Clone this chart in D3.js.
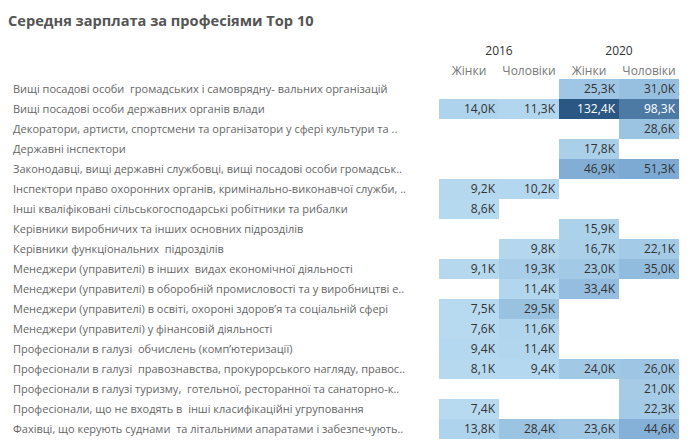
<!DOCTYPE html>
<html>
<head>
<meta charset="utf-8">
<script src="https://cdn.jsdelivr.net/npm/d3@7"></script>
<style>
  body { margin: 0; background: #fff; }
  text { white-space: pre; }
</style>
</head>
<body>
<div class="chart"></div>
<script>
// data
const professions = [
  "Вищі посадові особи  громадських і самоврядну- вальних організацій",
  "Вищі посадові особи державних органів влади",
  "Декоратори, артисти, спортсмени та організатори у сфері культури та ..",
  "Державні інспектори",
  "Законодавці, вищі державні службовці, вищі посадові особи громадськ..",
  "Інспектори право охоронних органів, кримінально-виконавчої служби, ..",
  "Інші кваліфіковані сільськогосподарські робітники та рибалки",
  "Керівники виробничих та інших основних підрозділів",
  "Керівники функціональних  підрозділів",
  "Менеджери (управителі) в інших  видах економічної діяльності",
  "Менеджери (управителі) в оборобній промисловості та у виробництві е..",
  "Менеджери (управителі) в освіті, охороні здоров’я та соціальній сфері",
  "Менеджери (управителі) у фінансовій діяльності",
  "Професіонали в галузі  обчислень (комп’ютеризації)",
  "Професіонали в галузі  правознавства, прокурорського нагляду, правос..",
  "Професіонали в галузі туризму,  готельної, ресторанної та санаторно-к..",
  "Професіонали, що не входять в  інші класифікаційні угруповання",
  "Фахівці, що керують суднами  та літальними апаратами і забезпечують.."
];
const years = ["2016", "2020"];
const genders = ["Жінки", "Чоловіки"];
// thousands UAH, null = no data
const women2016 = [null, 14.0, null, null, null, 9.2, 8.6, null, null, 9.1, null, 7.5, 7.6, 9.4, 8.1, null, 7.4, 13.8];
const men2016   = [null, 11.3, null, null, null, 10.2, null, null, 9.8, 19.3, 11.4, 29.5, 11.6, 11.4, 9.4, null, null, 28.4];
const women2020 = [25.3, 132.4, null, 17.8, 46.9, null, null, 15.9, 16.7, 23.0, 33.4, null, null, null, 24.0, null, null, 23.6];
const men2020   = [31.0, 98.3, 28.6, null, 51.3, null, null, null, 22.1, 35.0, null, null, null, null, 26.0, 21.0, 22.3, 44.6];

const columns = [women2016, men2016, women2020, men2020];

const width = 690, height = 447;
const fontFam = "'Open Sans', 'Noto Sans', sans-serif";

const svg = d3.select('.chart').append('svg')
  .attr('width', width)
  .attr('height', height)
  .style('font-family', fontFam);

// title
svg.append('text')
  .attr('x', 8).attr('y', 26)
  .attr('font-size', 14.6).attr('font-weight', 'bold')
  .attr('fill', '#555')
  .text('Середня зарплата за професіями Top 10');

var x = d3.scaleBand().domain(d3.range(columns.length)).range([439, 679]);
var y = d3.scaleBand().domain(d3.range(professions.length)).range([79, 439]);

var allVals = columns.flat().filter(v => v != null);
var ext = d3.extent(allVals);
var color = d3.scaleLinear()
  .domain([ext[0], 50, ext[1]])
  .range(['#b7daf0', '#7eabd4', '#2a5783']);
var tScale = d3.scaleLinear().domain(ext).range([0, 1]);

// year headers
svg.selectAll('.year')
  .data(years)
  .enter().append('text')
  .attr('x', (d, i) => x(i * 2) + x.bandwidth())
  .attr('y', 55)
  .attr('text-anchor', 'middle')
  .attr('font-size', 12)
  .attr('fill', '#333')
  .text(d => d);

// gender sub headers
svg.selectAll('.gender')
  .data(d3.range(columns.length))
  .enter().append('text')
  .attr('x', i => x(i) + x.bandwidth() / 2)
  .attr('y', 75)
  .attr('text-anchor', 'middle')
  .attr('font-size', 12)
  .attr('fill', '#777')
  .text(i => genders[i % 2]);

// row labels
svg.selectAll('.label')
  .data(professions)
  .enter().append('text')
  .attr('x', 13)
  .attr('y', (d, i) => y(i) + y.bandwidth() / 2)
  .attr('dy', '0.35em')
  .attr('font-size', 11)
  .attr('fill', '#666')
  .text(d => d);

// cells
var cells = [];
columns.forEach((col, c) => col.forEach((v, r) => { if (v != null) cells.push({c: c, r: r, v: v}); }));

svg.selectAll('rect.cell')
  .data(cells)
  .enter().append('rect')
  .attr('x', d => x(d.c))
  .attr('y', d => y(d.r))
  .attr('width', x.bandwidth())
  .attr('height', y.bandwidth())
  .attr('fill', d => color(d.v));

svg.selectAll('text.val')
  .data(cells)
  .enter().append('text')
  .attr('x', d => x(d.c) + x.bandwidth() - 4)
  .attr('y', d => y(d.r) + y.bandwidth() / 2)
  .attr('dy', '0.35em')
  .attr('text-anchor', 'end')
  .attr('font-size', 12)
  .attr('fill', d => tScale(d.v) > 0.6 ? '#fff' : '#333')
  .text(d => d.v.toFixed(1).replace('.', ',') + 'K');
</script>
</body>
</html>
